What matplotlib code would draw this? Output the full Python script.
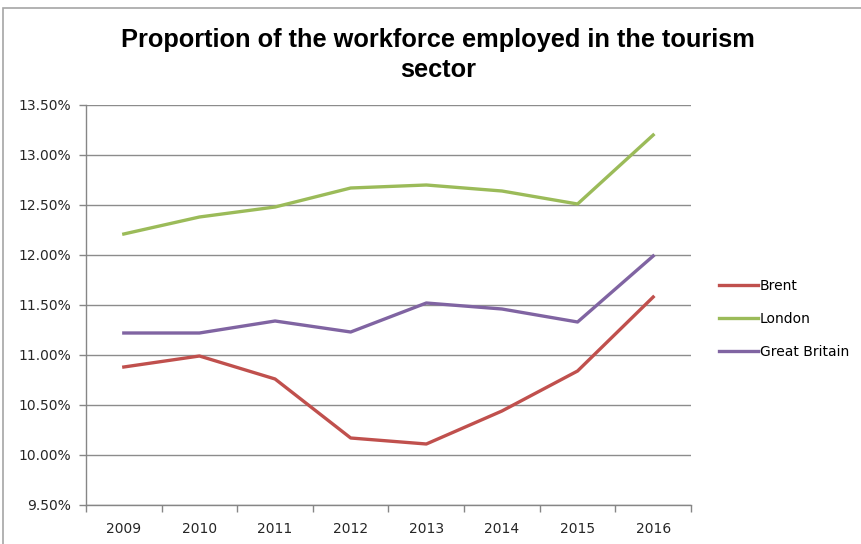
import matplotlib
matplotlib.use("Agg")
import matplotlib.pyplot as plt
import matplotlib.ticker as ticker
from matplotlib.patches import Rectangle

# Share of the workforce in tourism, by area (percent)
years = ["2009", "2010", "2011", "2012", "2013", "2014", "2015", "2016"]
brent = [10.88, 10.99, 10.76, 10.17, 10.11, 10.44, 10.84, 11.58]
london = [12.21, 12.38, 12.48, 12.67, 12.70, 12.64, 12.51, 13.20]
great_britain = [11.22, 11.22, 11.34, 11.23, 11.52, 11.46, 11.33, 11.99]
y_ticks = [9.5, 10.0, 10.5, 11.0, 11.5, 12.0, 12.5, 13.0, 13.5]

plt.rcParams["font.family"] = ["DejaVu Sans"]

fig = plt.figure(figsize=(8.62, 5.44), dpi=100)
# light chart border
fig.patches.append(Rectangle((3 / 862, -0.05), 1.1, (544 - 8) / 544 + 0.05,
                             transform=fig.transFigure, fill=False,
                             edgecolor="#A6A6A6", linewidth=1.2))

ax = fig.add_axes([86 / 862, (544 - 505) / 544, (691 - 86) / 862, 400 / 544])

x = list(range(len(years)))
ax.plot(x, brent, color="#C0504D", linewidth=2.4, label="Brent", zorder=3)
ax.plot(x, london, color="#9BBB59", linewidth=2.4, label="London", zorder=3)
ax.plot(x, great_britain, color="#8064A2", linewidth=2.4, label="Great Britain", zorder=3)

ax.set_xlim(-0.5, len(years) - 0.5)
ax.set_ylim(9.5, 13.5)
ax.set_yticks(y_ticks)
ax.yaxis.set_major_formatter(ticker.FuncFormatter(lambda v, _: f"{v:.2f}%"))
ax.set_xticks(x)
ax.set_xticklabels(years)
ax.set_xticks([i - 0.5 for i in range(len(years) + 1)], minor=True)

ax.tick_params(axis="x", which="major", length=0, pad=12, labelsize=10, colors="#262626")
ax.tick_params(axis="x", which="minor", length=5, color="#868686", width=1)
ax.tick_params(axis="y", length=5, color="#868686", width=1, labelsize=10,
               labelcolor="#262626", pad=6)

ax.grid(axis="y", color="#8C8C8C", linewidth=1.0, zorder=0)
ax.set_axisbelow(True)
for side in ["top", "right"]:
    ax.spines[side].set_visible(False)
for side in ["left", "bottom"]:
    ax.spines[side].set_color("#868686")
    ax.spines[side].set_linewidth(1.0)

title_font = "Liberation Sans"
fig.text(438 / 862, 1 - 40 / 544, "Proportion of the workforce employed in the tourism",
         ha="center", va="center", fontsize=18.3, fontweight="bold", family=title_font)
fig.text(438 / 862, 1 - 70 / 544, "sector", ha="center", va="center",
         fontsize=18.3, fontweight="bold", family=title_font)

ax.legend(loc="center left", bbox_to_anchor=(1.025, 0.465), frameon=False,
          fontsize=10, handlelength=2.8, handletextpad=0.15, labelspacing=1.35)

fig.savefig("out.png", dpi=100)
